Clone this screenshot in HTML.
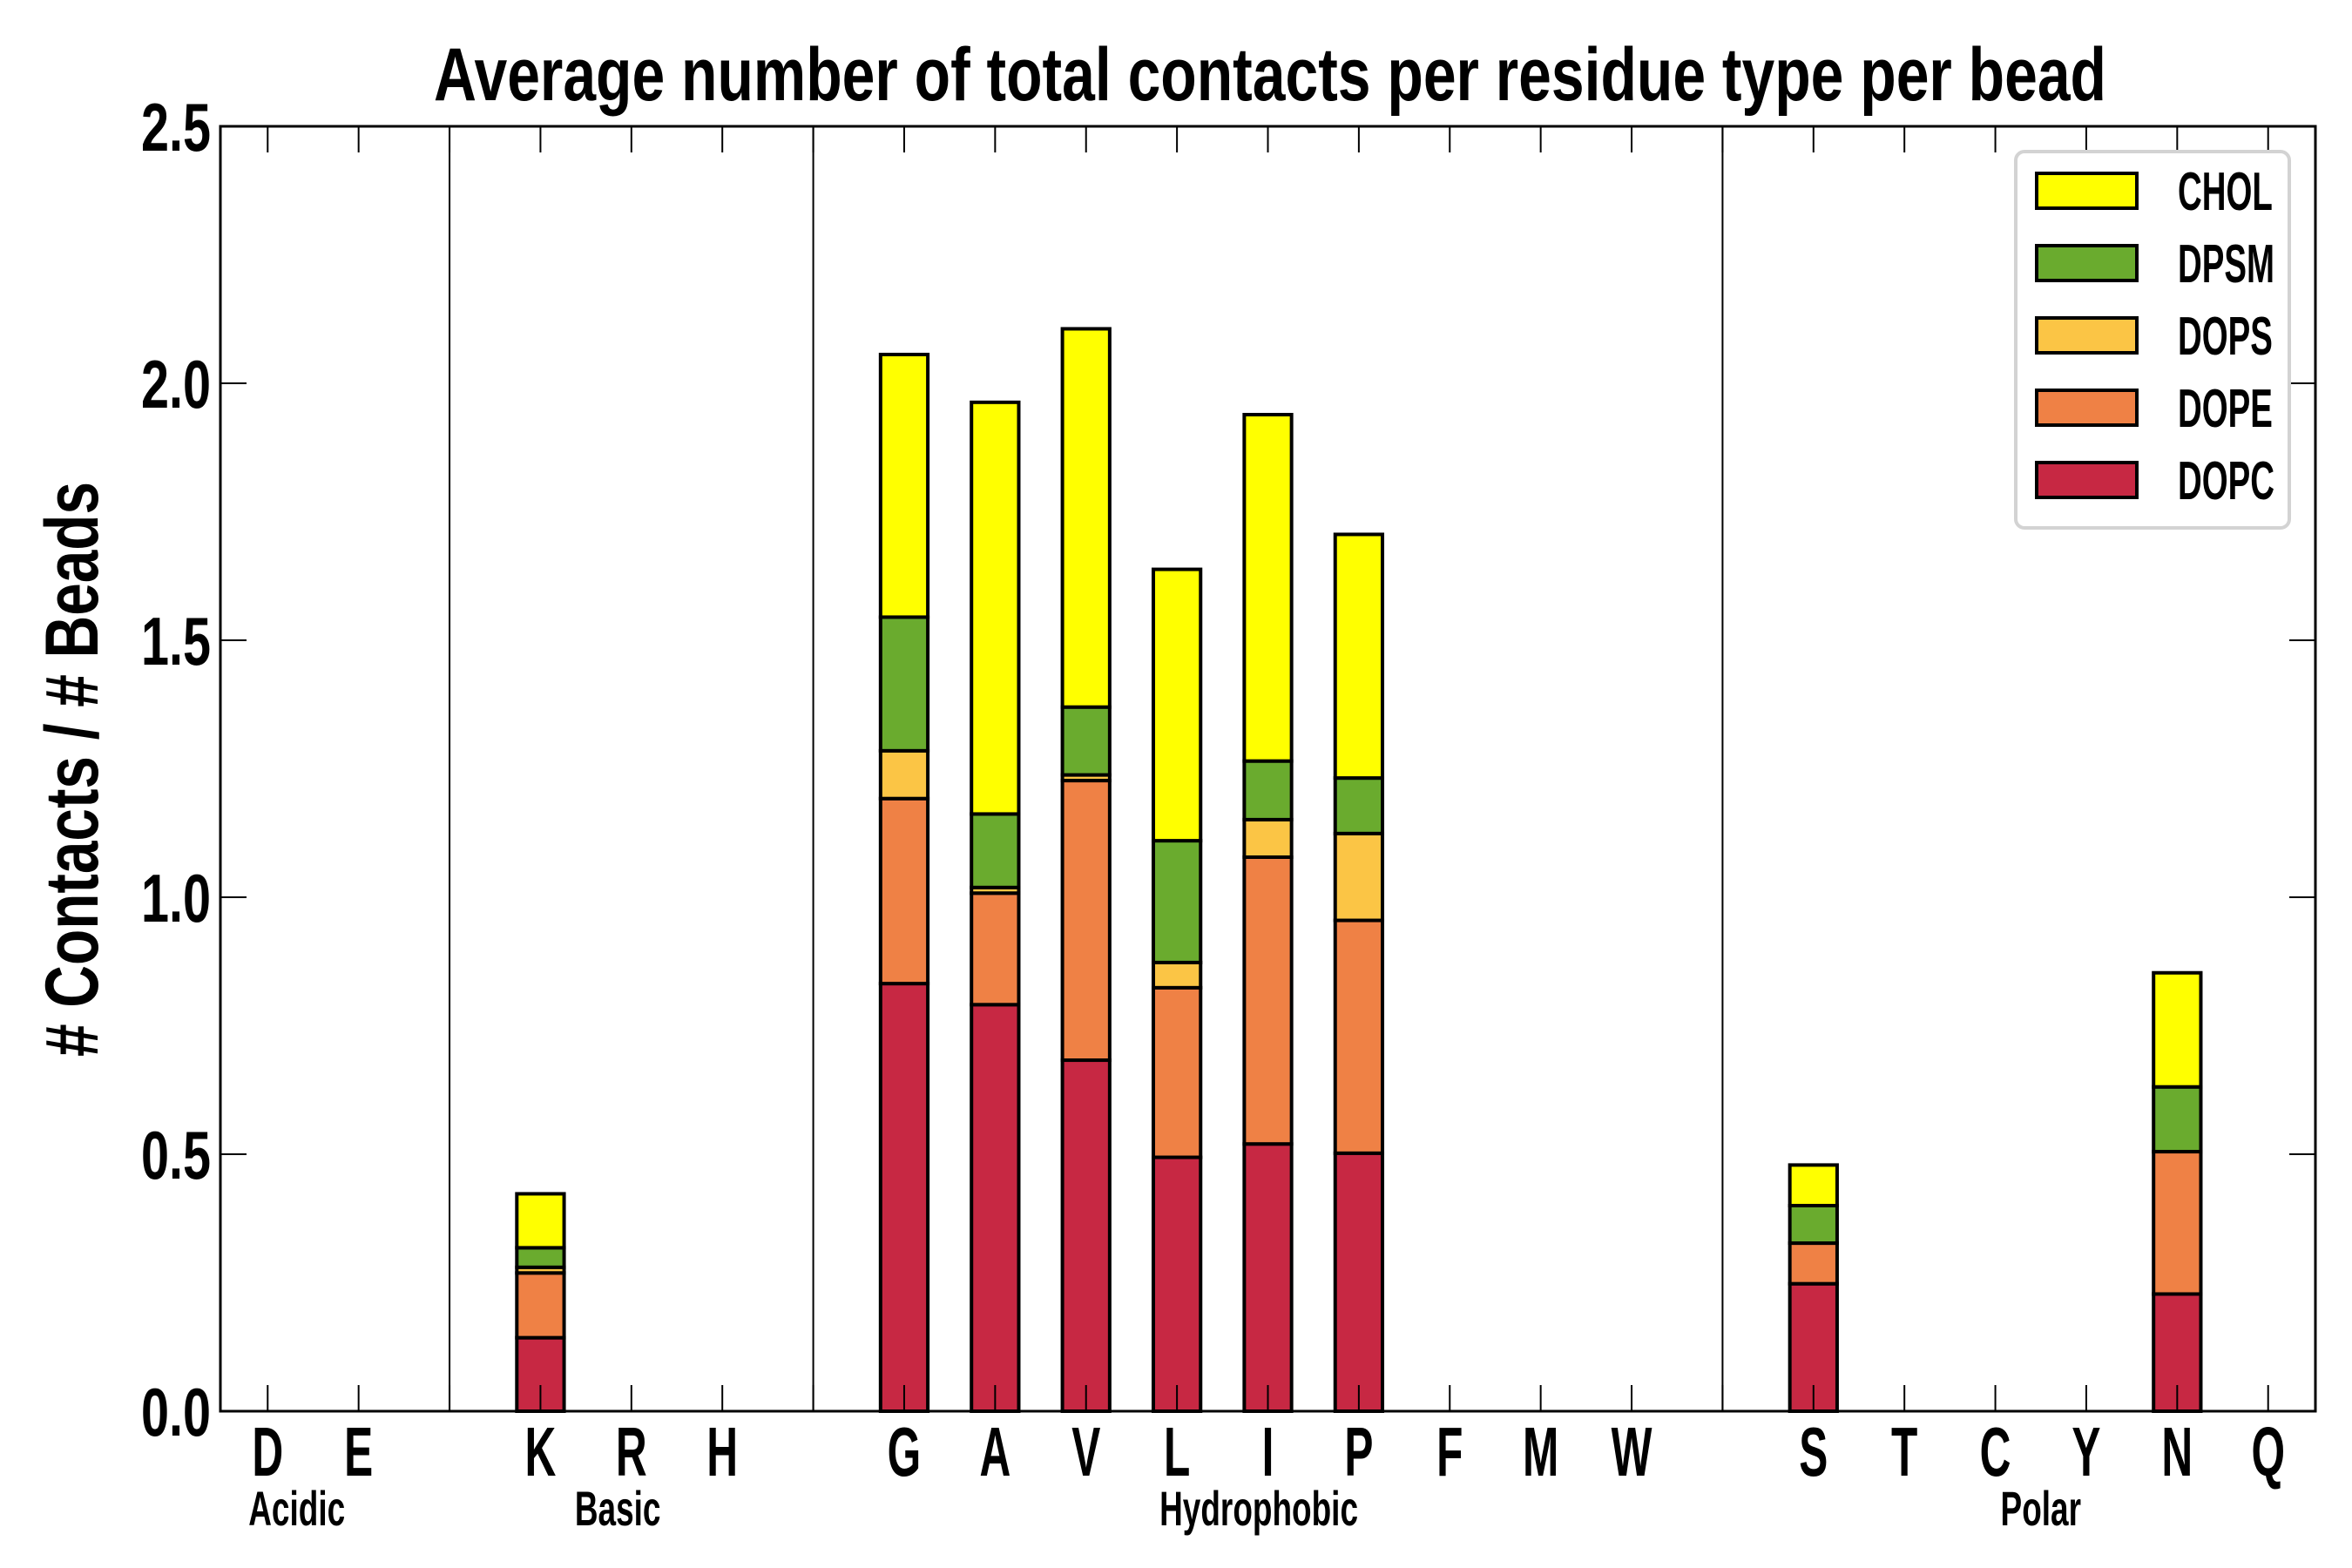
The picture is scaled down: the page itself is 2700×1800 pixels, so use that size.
<!DOCTYPE html>
<html><head><meta charset="utf-8">
<style>
html,body{margin:0;padding:0;background:#fff;}
svg{display:block;}
text{font-family:"Liberation Sans Narrow","Liberation Sans",sans-serif;font-weight:bold;fill:#000;}
</style></head>
<body>
<svg id="chart" width="2700" height="1800" viewBox="0 0 2700 1800" xmlns="http://www.w3.org/2000/svg"></svg>
<script>
const categories = ["D","E","","K","R","H","","G","A","V","L","I","P","F","M","W","","S","T","C","Y","N","Q"];
const dopc = [0,0,0,0.143,0,0,0,0.832,0.791,0.683,0.494,0.520,0.502,0,0,0,0,0.248,0,0,0,0.228,0];
const dope = [0,0,0,0.126,0,0,0,0.360,0.217,0.544,0.330,0.558,0.453,0,0,0,0,0.079,0,0,0,0.277,0];
const dops = [0,0,0,0.011,0,0,0,0.093,0.011,0.011,0.049,0.073,0.169,0,0,0,0,0.000,0,0,0,0.000,0];
const dpsm = [0,0,0,0.038,0,0,0,0.260,0.143,0.132,0.237,0.114,0.108,0,0,0,0,0.073,0,0,0,0.126,0];
const chol = [0,0,0,0.105,0,0,0,0.511,0.801,0.736,0.528,0.674,0.474,0,0,0,0,0.079,0,0,0,0.222,0];
const seriesNames = ["DOPC","DOPE","DOPS","DPSM","CHOL"];
const seriesColors = ["#c72843","#ef8145","#fbc545","#6aab2e","#ffff00"];
const yTicks = ["0.0","0.5","1.0","1.5","2.0","2.5"];
const separators = [2,6,16];
const groupNames = ["Acidic","Basic","Hydrophobic","Polar"];
const groupCenters = [0.32,3.85,10.9,19.5];

const svg = document.getElementById('chart');
const NS = "http://www.w3.org/2000/svg";
const L=253, R=2658, T=145, B=1620;
const xmin=-0.52, xmax=22.52, ymax=2.5;
function xs(i){return L+(i-xmin)/(xmax-xmin)*(R-L);}
function ys(v){return B-v/ymax*(B-T);}
function mk(tag, attrs){const e=document.createElementNS(NS,tag);for(const k in attrs)e.setAttribute(k,attrs[k]);svg.appendChild(e);return e;}
function txt(s, attrs){const e=mk('text',attrs);e.textContent=s;return e;}
function ctxt(s, x, y, size, sx, anchor){
  const e=mk('text',{x:0,y:0,'font-size':size,'text-anchor':anchor||'middle',transform:'translate('+x+','+y+') scale('+sx+',1)'});
  e.textContent=s;return e;
}

separators.forEach((s)=>{
  const ln=mk('line',{x1:xs(s),x2:xs(s),y1:T,y2:B,stroke:'#000','stroke-width':2});
  
  
});

const series=[dopc,dope,dops,dpsm,chol];
const bw=(R-L)/(xmax-xmin)*0.52;
categories.forEach((c,i)=>{
  let base=0;
  series.forEach((arr,si)=>{
    const v=arr[i];
    const y0=ys(base), y1=ys(base+v);
    const r=mk('rect',{x:xs(i)-bw/2,y:y1,width:bw,height:Math.max(y0-y1,0),fill:seriesColors[si],stroke:'#000','stroke-width':4});
    
    
    base+=v;
  });
});

const fr=mk('rect',{x:L,y:T,width:R-L,height:B-T,fill:'none',stroke:'#000','stroke-width':3});



categories.forEach((c,i)=>{
  const x=xs(i);
  const t1=mk('line',{x1:x,x2:x,y1:B,y2:B-30,stroke:'#000','stroke-width':2});
  
  
  const t2=mk('line',{x1:x,x2:x,y1:T,y2:T+30,stroke:'#000','stroke-width':2});
  
  
  if(c){
    const lb=ctxt(c,x,1694,80,0.62);
    
    
  }
});
groupNames.forEach((g,k)=>{
  const lb=ctxt(g,xs(groupCenters[k]),1751,56,0.66);
  
  
});

yTicks.forEach((t)=>{
  const v=parseFloat(t), y=ys(v);
  const a=mk('line',{x1:L,x2:L+30,y1:y,y2:y,stroke:'#000','stroke-width':2});
  
  
  const b=mk('line',{x1:R,x2:R-30,y1:y,y2:y,stroke:'#000','stroke-width':2});
  
  
  const lb=txt(t,{x:242,y:y+28,'text-anchor':'end','font-size':78,textLength:80,lengthAdjust:'spacingAndGlyphs'});
  
  
});

const title=txt('Average number of total contacts per residue type per bead',{x:1458,y:115,'text-anchor':'middle','font-size':86,textLength:1920,lengthAdjust:'spacingAndGlyphs'});



const yt=txt('# Contacts / # Beads',{x:0,y:0,'text-anchor':'middle','font-size':86,textLength:660,lengthAdjust:'spacingAndGlyphs',transform:'translate(112,883) rotate(-90)'});



const lg=mk('rect',{x:2314,y:174,width:314,height:432,rx:10,fill:'#fff',stroke:'#d3d3d3','stroke-width':4});


for(let k=0;k<5;k++){
  const si=4-k, cy=219+k*83;
  const sw=mk('rect',{x:2338,y:cy-20,width:115,height:40,fill:seriesColors[si],stroke:'#000','stroke-width':4});
  
  
  const lt=ctxt(seriesNames[si],2500,cy+22,62,0.62,'start');
  
  
}
</script>
</body></html>
